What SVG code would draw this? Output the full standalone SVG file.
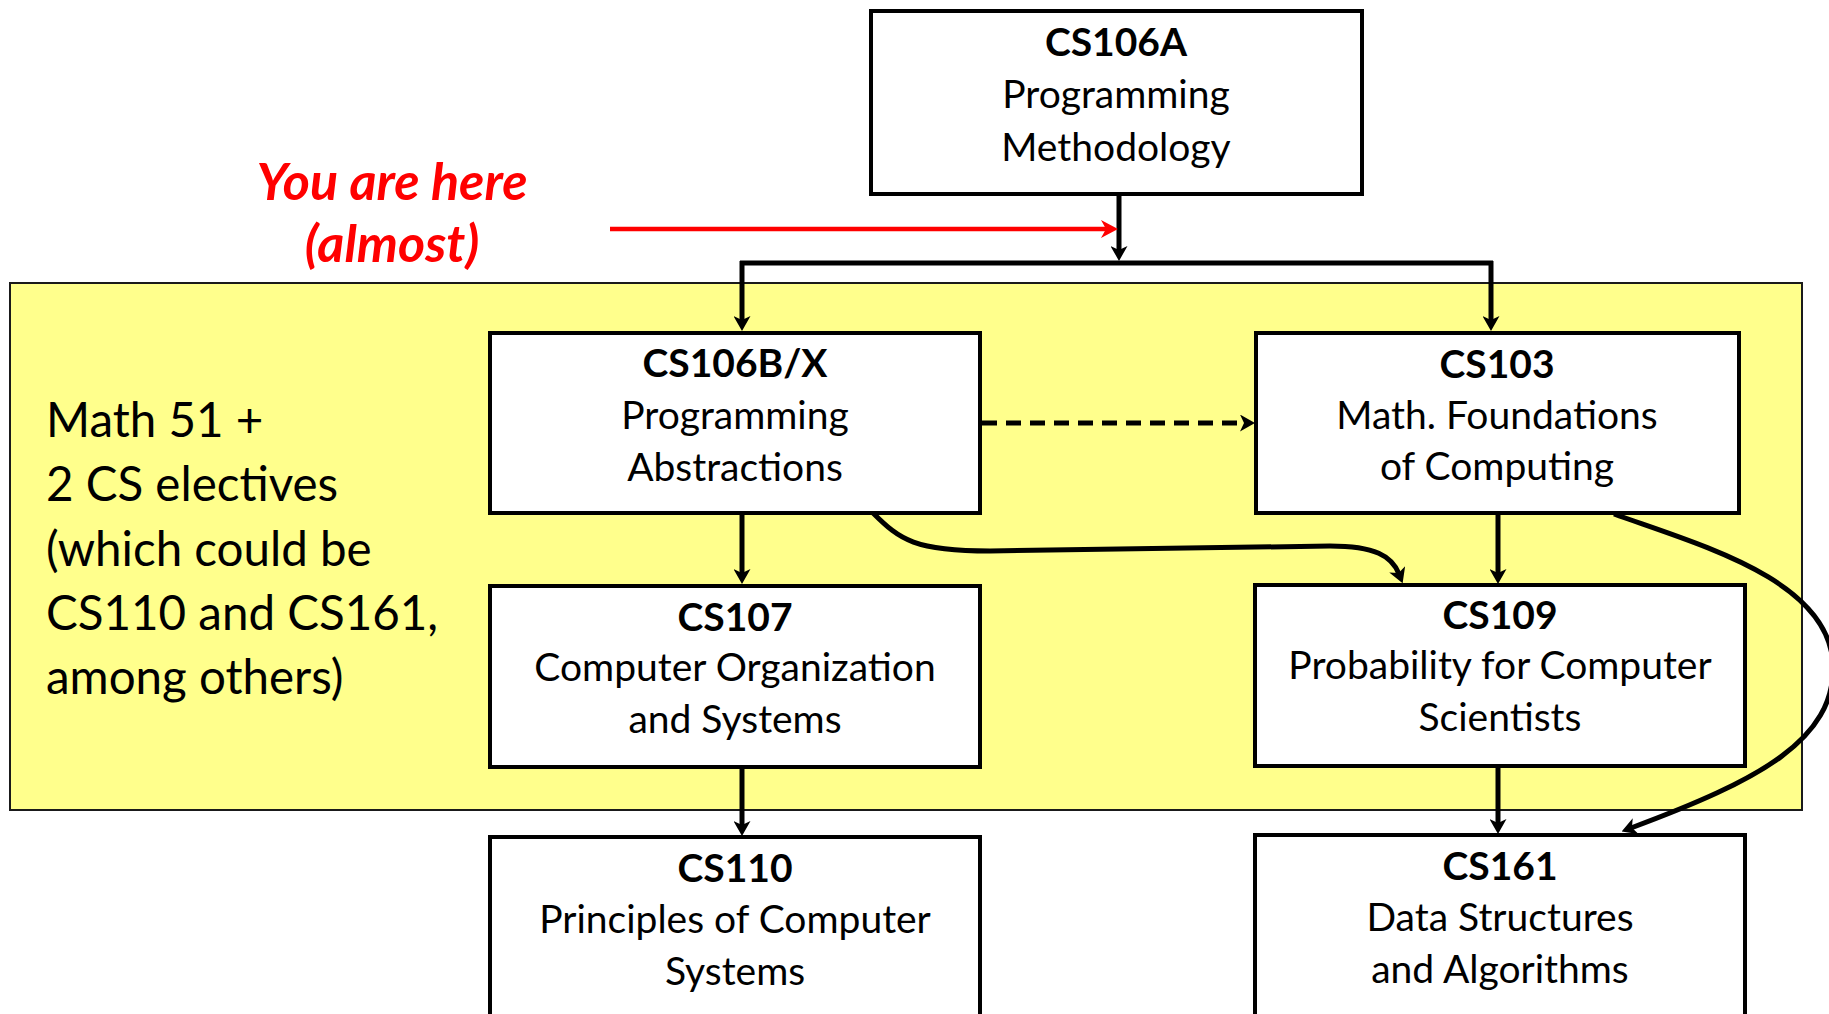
<svg xmlns="http://www.w3.org/2000/svg" width="1829" height="1014" viewBox="0 0 1829 1014">
<style>
.node rect{fill:#FFFFFF;stroke:#000000;stroke-width:4}
.t{font-family:Lato,"Liberation Sans",sans-serif;font-size:39px;fill:#000000;text-anchor:middle}
.b{font-weight:bold}
.side{font-family:Lato,"Liberation Sans",sans-serif;font-size:47.5px;fill:#000000}
.red{font-family:Lato,"Liberation Sans",sans-serif;font-size:52px;font-weight:bold;font-style:italic;fill:#FF0000;text-anchor:middle}
.c{fill:none;stroke:#000000;stroke-width:5}
</style>
<defs>
<marker id="ah" viewBox="0 0 15 17" markerWidth="15" markerHeight="17" refX="5" refY="8.5" orient="auto" markerUnits="userSpaceOnUse">
<path d="M0,0 L15,8.5 L0,17 L4,8.5 z" fill="#000000"/>
</marker>
<marker id="ahr" viewBox="0 0 17 18" markerWidth="17" markerHeight="18" refX="6" refY="9" orient="auto" markerUnits="userSpaceOnUse">
<path d="M0,0 L17,9 L0,18 L5,9 z" fill="#FF0000"/>
</marker>
</defs>
<rect width="1829" height="1014" fill="#FFFFFF"/>
<g id="core-box">
<rect x="10" y="283" width="1792" height="527" fill="#FFFF8C" stroke="#1a1a1a" stroke-width="2"/>
<text class="side" x="46" y="437">Math 51 +</text>
<text class="side" x="46" y="501">2 CS electives</text>
<text class="side" x="46" y="566">(which could be</text>
<text class="side" x="46" y="630">CS110 and CS161,</text>
<text class="side" x="46" y="694">among others)</text>
</g>
<g id="you-are-here">
<text class="red" x="392" y="200">You are here</text>
<text class="red" x="392" y="262">(almost)</text>
</g>
<g id="cs106a" class="node">
<rect x="871" y="11" width="491" height="183"/>
<text class="t b" x="1116" y="56">CS106A</text>
<text class="t" x="1116" y="108">Programming</text>
<text class="t" x="1116" y="161">Methodology</text>
</g>
<g id="cs106b" class="node">
<rect x="490" y="333" width="490" height="180"/>
<text class="t b" x="735" y="377">CS106B/X</text>
<text class="t" x="735" y="429">Programming</text>
<text class="t" x="735" y="481">Abstractions</text>
</g>
<g id="cs103" class="node">
<rect x="1256" y="333" width="483" height="180"/>
<text class="t b" x="1497" y="378">CS103</text>
<text class="t" x="1497" y="429">Math. Foundations</text>
<text class="t" x="1497" y="480">of Computing</text>
</g>
<g id="cs107" class="node">
<rect x="490" y="586" width="490" height="181"/>
<text class="t b" x="735" y="631">CS107</text>
<text class="t" x="735" y="681">Computer Organization</text>
<text class="t" x="735" y="733">and Systems</text>
</g>
<g id="cs109" class="node">
<rect x="1255" y="585" width="490" height="181"/>
<text class="t b" x="1500" y="629">CS109</text>
<text class="t" x="1500" y="679">Probability for Computer</text>
<text class="t" x="1500" y="731">Scientists</text>
</g>
<g id="cs110" class="node">
<rect x="490" y="837" width="490" height="190"/>
<text class="t b" x="735" y="882">CS110</text>
<text class="t" x="735" y="933">Principles of Computer</text>
<text class="t" x="735" y="985">Systems</text>
</g>
<g id="cs161" class="node">
<rect x="1255" y="835" width="490" height="190"/>
<text class="t b" x="1500" y="880">CS161</text>
<text class="t" x="1500" y="931">Data Structures</text>
<text class="t" x="1500" y="983">and Algorithms</text>
</g>
<g id="connectors">
<path class="c" d="M1119 194 V251" marker-end="url(#ah)"/>
<path class="c" d="M740 263 H1493"/>
<path class="c" d="M742 261 V321" marker-end="url(#ah)"/>
<path class="c" d="M1491 261 V321" marker-end="url(#ah)"/>
<path d="M610 229 H1107" fill="none" stroke="#FF0000" stroke-width="4.5" marker-end="url(#ahr)"/>
<path class="c" d="M742 515 V574" marker-end="url(#ah)"/>
<path class="c" d="M742 769 V826" marker-end="url(#ah)"/>
<path class="c" d="M1498 515 V574" marker-end="url(#ah)"/>
<path class="c" d="M1498 768 V824" marker-end="url(#ah)"/>
<path class="c" d="M982 423 H1245" stroke-dasharray="15 9" marker-end="url(#ah)"/>
<path class="c" d="M873 513 C900 540 915 551 990 551 L1330 546 C1375 546 1392 556 1399 574" marker-end="url(#ah)"/>
<path class="c" d="M1614 514 C1700 545 1830 580 1833 665 C1835 740 1760 780 1631 828" marker-end="url(#ah)"/>
</g>
</svg>
